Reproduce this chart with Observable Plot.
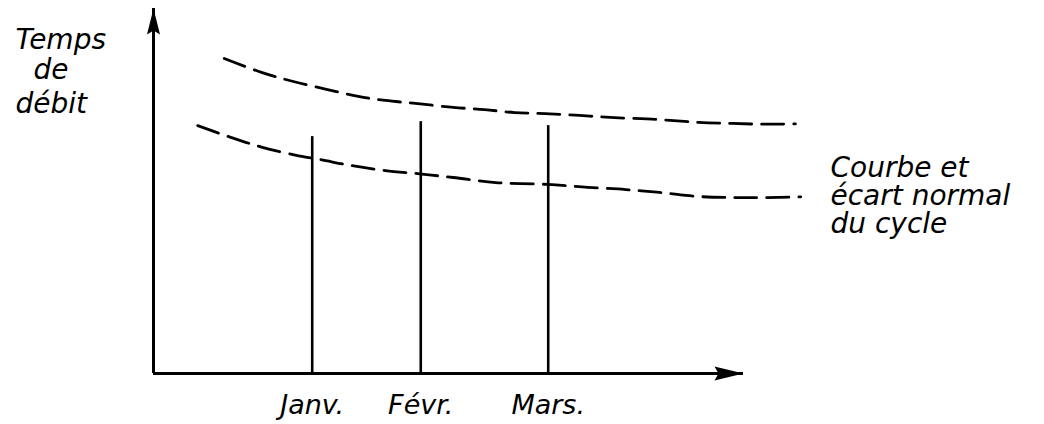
<!DOCTYPE html>
<html>
<head>
<meta charset="utf-8">
<script src="https://cdn.jsdelivr.net/npm/d3@7"></script>
<script src="https://cdn.jsdelivr.net/npm/@observablehq/plot@0.6"></script>
<style>
  html, body { margin: 0; padding: 0; background: #fff; }
</style>
</head>
<body>
<div id="chart"></div>
<script>
// ---- data (arbitrary units: time on x, flow time on y) ----
const monthNames = ["Janv.", "Févr.", "Mars."];
const monthX     = [2.69, 4.53, 6.69];
const monthTop   = [6.49, 6.90, 6.79];

const upperX = [1.20, 1.83, 2.37, 2.95, 3.47, 3.93, 4.44, 5.08, 5.61, 6.12, 6.64, 7.22, 7.81, 8.53, 9.24, 9.81, 10.34, 10.88];
const upperY = [8.63, 8.25, 8.00, 7.78, 7.59, 7.48, 7.40, 7.29, 7.23, 7.15, 7.12, 7.07, 7.01, 6.96, 6.88, 6.85, 6.83, 6.84];

const lowerX = [0.75, 1.31, 1.86, 2.44, 2.83, 3.34, 3.93, 4.51, 5.08, 5.80, 6.68, 7.36, 8.00, 8.58, 9.24, 9.81, 10.34, 10.97];
const lowerY = [6.79, 6.47, 6.19, 5.97, 5.86, 5.70, 5.56, 5.47, 5.37, 5.23, 5.18, 5.10, 5.04, 4.96, 4.85, 4.82, 4.82, 4.84];

const yTitleLines = ["Temps", "de", "débit"];
const curveNote = "Courbe et\nécart normal\ndu cycle";
const axisEnd = [10];
const axisStart = [0];

// ---- build tables ----
const upper = upperX.map((x, i) => ({x, y: upperY[i]}));
const lower = lowerX.map((x, i) => ({x, y: lowerY[i]}));
const months = monthNames.map((name, i) => ({name, x: monthX[i], top: monthTop[i]}));

// filled arrowhead symbols (tip at origin)
const arrowUp = {draw(ctx) { ctx.moveTo(0, 0); ctx.lineTo(6.5, 26); ctx.lineTo(0, 22); ctx.lineTo(-6.5, 26); ctx.closePath(); }};
const arrowRight = {draw(ctx) { ctx.moveTo(0, 0); ctx.lineTo(-29, 7); ctx.lineTo(-25, 0); ctx.lineTo(-29, -7); ctx.closePath(); }};

const font = "'DejaVu Sans', sans-serif";
const titleIndent = [-138, -120, -138];
const titleDy = [21, 51, 85];

const chart = Plot.plot({
  width: 1044,
  height: 424,
  marginLeft: 153,
  marginRight: 301,
  marginTop: 8,
  marginBottom: 51,
  x: {domain: [0, 10], axis: null},
  y: {domain: [0, 10], axis: null},
  style: {fontFamily: font, fontStyle: "italic", background: "#fff", color: "#000", overflow: "visible"},
  marks: [
    // axes
    Plot.ruleY(axisStart, {stroke: "#000", strokeWidth: 3}),
    Plot.ruleX(axisStart, {stroke: "#000", strokeWidth: 3}),
    Plot.dot(axisEnd, {x: axisStart, y: d => d, symbol: arrowUp, fill: "#000", stroke: "none", r: 5}),
    Plot.dot(axisEnd, {x: d => d, y: axisStart, symbol: arrowRight, fill: "#000", stroke: "none", r: 5}),
    // month verticals
    Plot.ruleX(months, {x: "x", y1: 0, y2: "top", stroke: "#000", strokeWidth: 2.6}),
    // dashed normal curves
    Plot.line(upper, {x: "x", y: "y", curve: "catmull-rom", stroke: "#000", strokeWidth: 2.8, strokeDasharray: "22,10", clip: false}),
    Plot.line(lower, {x: "x", y: "y", curve: "catmull-rom", stroke: "#000", strokeWidth: 2.8, strokeDasharray: "22,10", clip: false}),
    // month labels
    Plot.text(months, {x: "x", text: "name", frameAnchor: "bottom", lineAnchor: "top", dy: 21, fontSize: 27, fontStyle: "italic", fill: "#000"}),
    // y title
    ...yTitleLines.map((t, i) => Plot.text([t], {text: d => d, frameAnchor: "top-left", textAnchor: "start", lineAnchor: "top", dx: titleIndent[i], dy: titleDy[i], fontSize: 28, fontStyle: "italic", fill: "#000"})),
    // curve annotation
    Plot.text([curveNote], {text: d => d, frameAnchor: "top-right", textAnchor: "start", lineAnchor: "top", dx: 87, dy: 149, fontSize: 28, lineHeight: 1.0, fontStyle: "italic", fill: "#000"})
  ]
});
document.getElementById("chart").appendChild(chart);
</script>
</body>
</html>
